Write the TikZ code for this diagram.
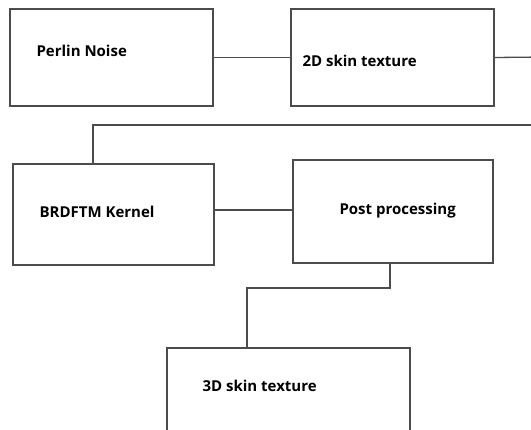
\documentclass[tikz,border=0pt]{standalone}
\usepackage{fontspec}
\setmainfont{Open Sans}
\usepackage{tikz}

\tikzset{
	block/.style={draw=black!70, line width=1.3pt, minimum width=#1, inner sep=0pt},
	label text/.style={anchor=west, font=\fontsize{15}{17}\selectfont\bfseries, text=black},
	link/.style={draw=black!70, line width=1.3pt}
}

\begin{document}
\begin{tikzpicture}[x=1pt, y=-1pt]
		\useasboundingbox (0, 0) rectangle (531, 430);
		% boxes
		\node[block=203pt, minimum height=97pt] (perlin) at (111.5, 57.5) {};
		\node[block=203pt, minimum height=97pt] (skin2d) at (392.5, 57.5) {};
		\node[block=201pt, minimum height=101pt] (brdf) at (113.5, 214.5) {};
		\node[block=200pt, minimum height=103pt] (post) at (393, 211.5) {};
		\node[block=243pt, minimum height=100pt] (skin3d) at (288.5, 398) {};
		% texts
		\node[label text] (perlintxt) at (33, 51) {Perlin Noise};
		\node[label text] (skin2dtxt) at (299, 61) {2D skin texture};
		\node[label text] (brdftxt) at (36, 212) {BRDFTM Kernel};
		\node[label text] (posttxt) at (336, 211) {Post processing};
		\node[label text] (skin3dtxt) at (199, 386) {3D skin texture};
		% connectors
		\coordinate (outtop) at (545, 57);
		\coordinate (outback) at (545, 125);
		\coordinate (bend) at (93, 125);
		\coordinate (knee) at (247, 288);
		\draw[link] (perlin.east) -- (skin2d.west);
		\draw[link] (skin2d.east) -- (outtop);
		\draw[link] (outback) -- (bend) -- (bend |- brdf.north);
		\draw[link] (brdf.east |- 0, 210) -- (post.west |- 0, 210);
		\draw[link] ([xshift=-3pt]post.south) |- (knee) -- (knee |- skin3d.north);
	\end{tikzpicture}
\end{document}
